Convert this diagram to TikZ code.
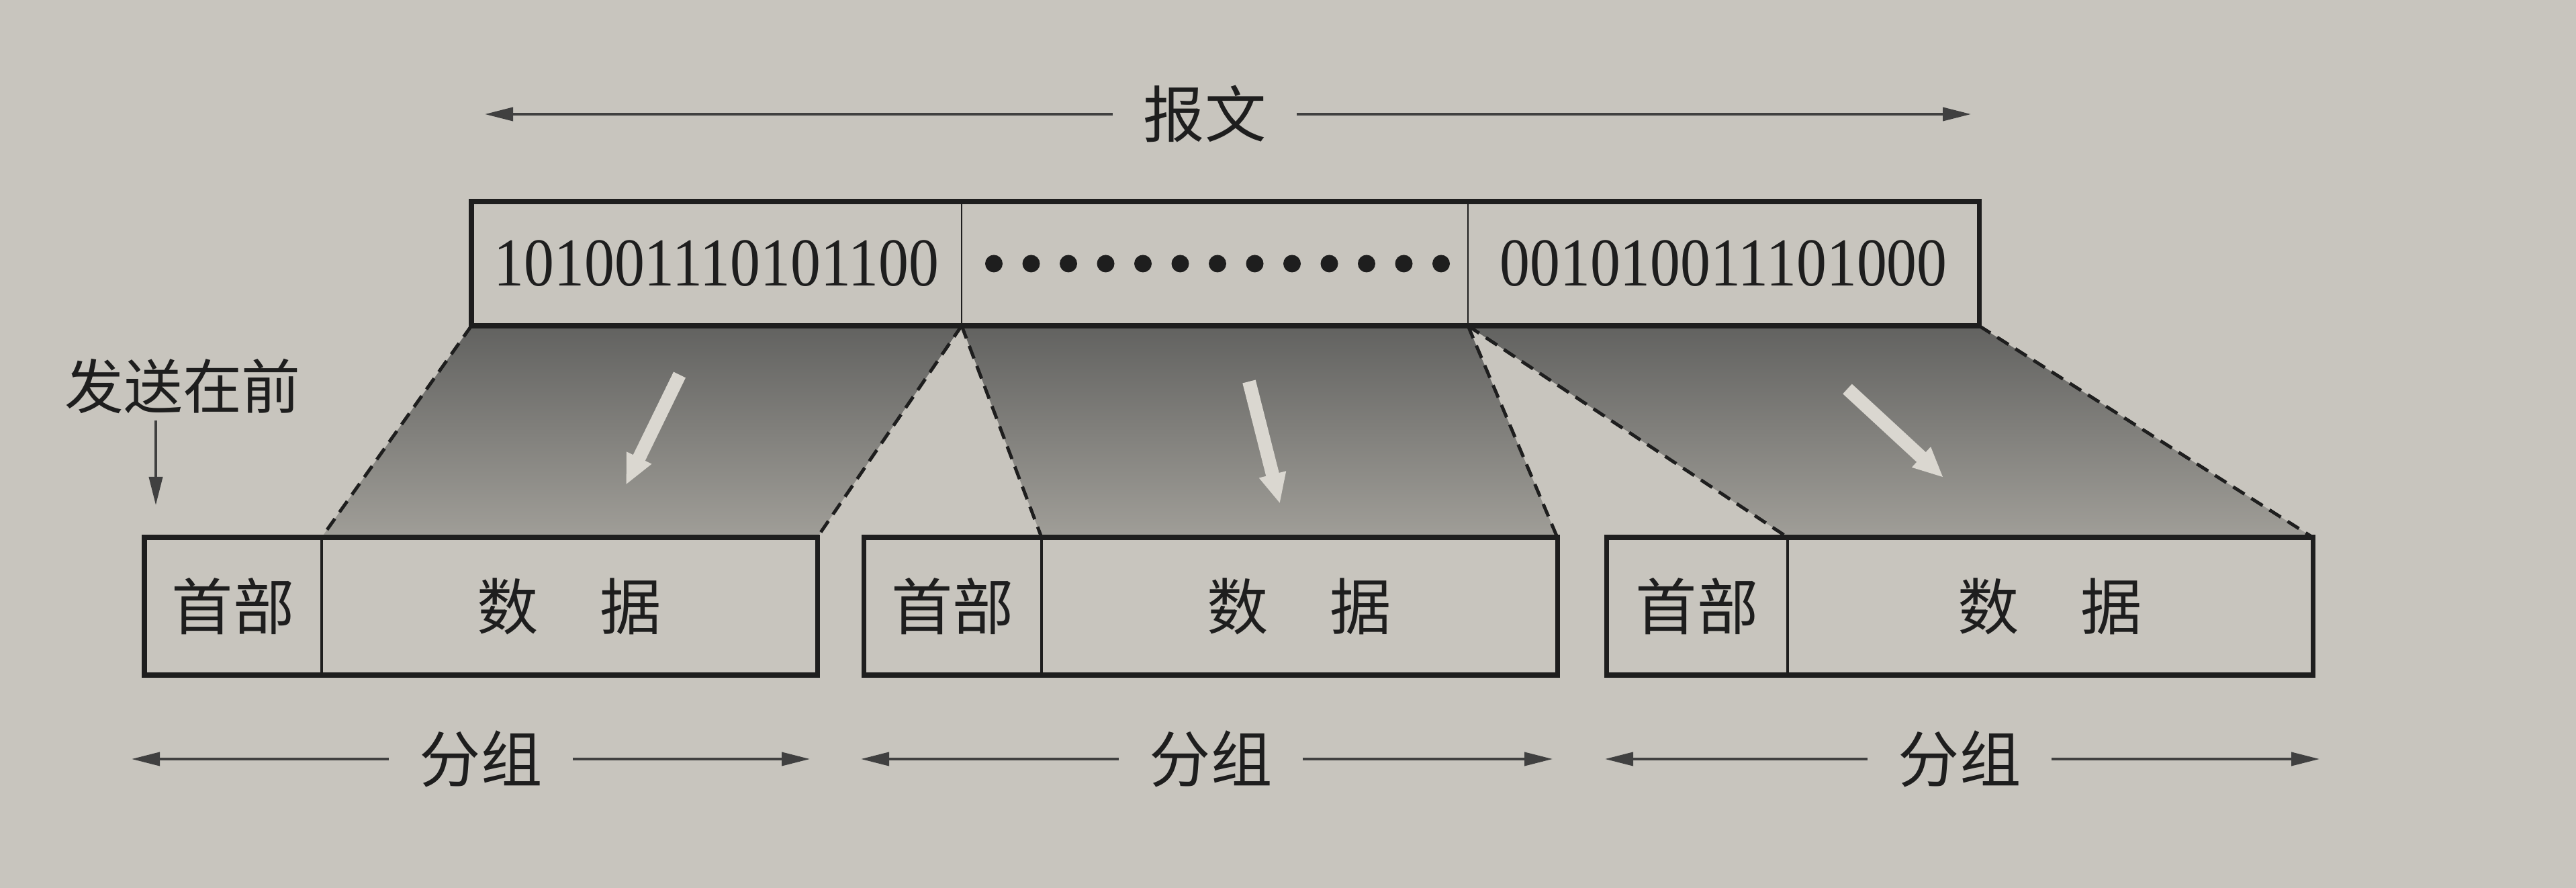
\documentclass[tikz,border=0pt]{standalone}
\usepackage{fontspec}
\usepackage{xcolor}
\usepackage{tikz}
\usetikzlibrary{positioning,arrows.meta,backgrounds}
\setmainfont{Liberation Serif}
\newfontfamily\bits[FakeStretch=0.88]{Liberation Serif}
\newfontfamily\cjk{Noto Sans CJK SC}
\definecolor{paper}{HTML}{C8C5BE}
\definecolor{ink}{HTML}{1E1E1E}
\definecolor{shadetop}{HTML}{626260}
\definecolor{shadebot}{HTML}{A09E98}
\definecolor{pale}{HTML}{DAD7D0}

\tikzset{
  seg/.style={minimum height=1.85cm, inner sep=0pt, outer sep=0pt, text=ink,
    font=\bits\fontsize{29}{32}\selectfont},
  cell/.style={draw=ink, line width=1.4pt, minimum height=2.05cm, inner sep=0pt,
    outer sep=0pt, text=ink, font=\cjk\fontsize{26}{30}\selectfont},
  lbl/.style={inner xsep=0.45cm, inner ysep=0pt, text=ink,
    font=\cjk\fontsize{26}{30}\selectfont},
  span/.style={draw=ink!85, line width=1.1pt, -{Triangle[length=0.42cm,width=0.2cm]}},
  cut/.style={draw=ink, line width=1.4pt, dash pattern=on 0.2cm off 0.12cm},
  flow/.style={draw=pale, line width=0.2cm, -{Triangle[length=0.45cm,width=0.38cm]}},
}

\begin{document}
\begin{tikzpicture}
\useasboundingbox (0,0) rectangle (38.36,13.22);

% the message
\node[seg, minimum width=7.30cm] (msgA) at (10.67,9.295) {101001110101100};
\node[seg, minimum width=7.54cm, right=0pt of msgA] (msgB) {};
\node[seg, minimum width=7.61cm, right=0pt of msgB] (msgC) {001010011101000};
\draw[ink, line width=0.6pt] (msgB.north west) -- (msgB.south west)
  (msgB.north east) -- (msgB.south east);
\draw[ink, line width=2pt] (msgA.north west) rectangle (msgC.south east);
\foreach \i in {0,...,12}
  \fill[ink] ([xshift=0.48cm+\i*0.555cm]msgB.west) circle (0.13cm);

\node[lbl] (msg) at (17.94,11.52) {报文};
\coordinate (msgl) at (7.22,11.52);
\coordinate (msgr) at (29.35,11.52);
\draw[span] (msg.west) -- (msgl);
\draw[span] (msg.east) -- (msgr);

% the packets
\node[cell, minimum width=2.64cm] (hdr1) at (3.47,4.195) {首部};
\node[cell, minimum width=7.38cm, right=0pt of hdr1] (dat1) {数\quad 据};
\node[cell, minimum width=2.65cm] (hdr2) at (14.185,4.195) {首部};
\node[cell, minimum width=7.68cm, right=0pt of hdr2] (dat2) {数\quad 据};
\node[cell, minimum width=2.70cm] (hdr3) at (25.27,4.195) {首部};
\node[cell, minimum width=7.82cm, right=0pt of hdr3] (dat3) {数\quad 据};
\foreach \n in {1,2,3}
  \draw[ink, line width=2pt] (hdr\n.north west) rectangle (dat\n.south east);

\begin{scope}[on background layer]
\fill[paper] (0,0) rectangle (38.36,13.22);
\foreach \m/\d in {msgA/dat1, msgB/dat2, msgC/dat3}
  \shade[top color=shadetop, bottom color=shadebot]
    (\m.south west) -- (\m.south east) -- (\d.north east) -- (\d.north west) -- cycle;
\end{scope}
\foreach \m/\d in {msgA/dat1, msgB/dat2, msgC/dat3} {
  \draw[cut] (\m.south west) -- (\d.north west);
  \draw[cut] (\m.south east) -- (\d.north east);
}

% pale arrows
\coordinate (w1a) at (10.12,7.64);
\coordinate (w1b) at (9.32,6.00);
\coordinate (w2a) at (18.60,7.54);
\coordinate (w2b) at (19.06,5.72);
\coordinate (w3a) at (27.51,7.43);
\coordinate (w3b) at (28.94,6.11);
\foreach \n in {1,2,3}
  \draw[flow] (w\n a) -- (w\n b);

\node[lbl, inner xsep=0pt, font=\cjk\fontsize{25}{30}\selectfont] (send) at (2.72,7.47) {发送在前};
\coordinate (sendtip) at (2.32,5.70);
\draw[span, shorten <=0.1cm] (send.south -| sendtip) -- (sendtip);

\foreach \n/\x/\l/\r in {1/7.16/1.96/12.06, 2/18.03/12.82/23.12, 3/29.18/23.90/34.54} {
  \node[lbl] (grp\n) at (\x,1.92) {分组};
  \coordinate (gl\n) at (\l,1.92);
  \coordinate (gr\n) at (\r,1.92);
  \draw[span] (grp\n.west) -- (gl\n);
  \draw[span] (grp\n.east) -- (gr\n);
}
\end{tikzpicture}
\end{document}
